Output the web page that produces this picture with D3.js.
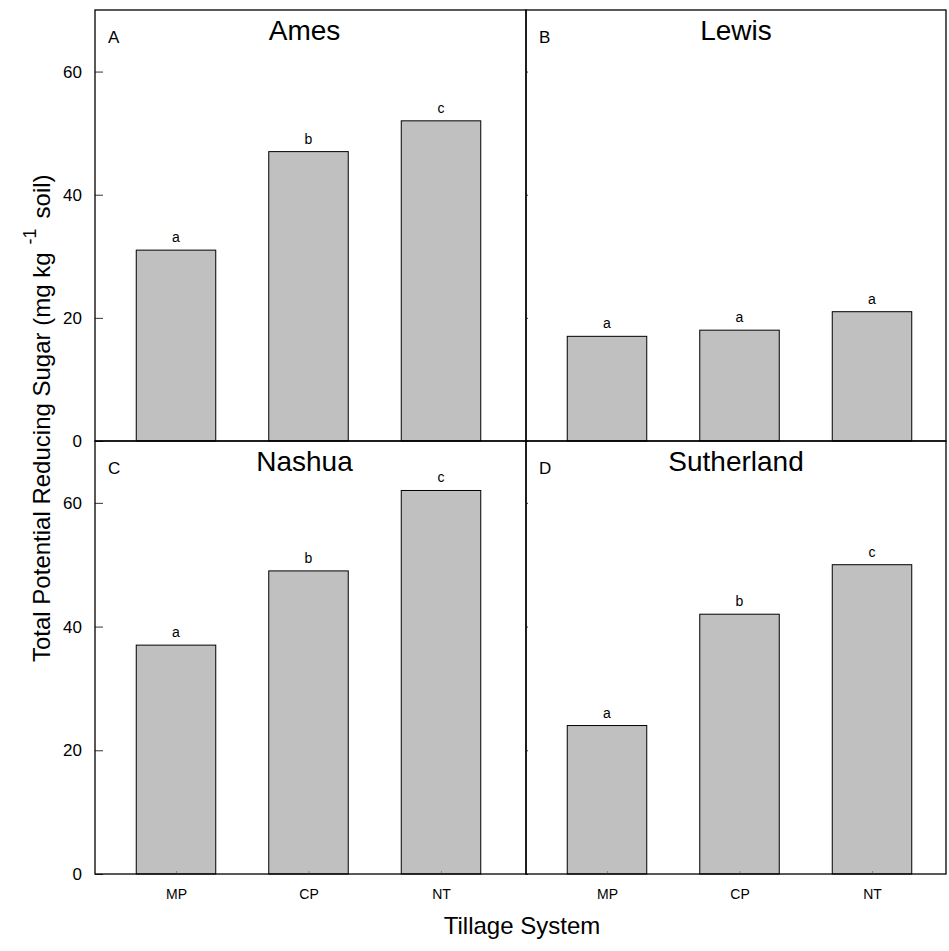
<!DOCTYPE html>
<html>
<head>
<meta charset="utf-8">
<script src="https://cdn.jsdelivr.net/npm/d3@7"></script>
<style>
  body { margin: 0; background: #fff; }
  text { font-family: "Liberation Sans", Arial, sans-serif; fill: #000; }
</style>
</head>
<body>
<div id="chart"></div>
<script>
// data
const categories = ['MP', 'CP', 'NT'];
const sites = ['Ames', 'Lewis', 'Nashua', 'Sutherland'];
const panelLetters = ['A', 'B', 'C', 'D'];
const amesValues = [31, 47, 52];
const lewisValues = [17, 18, 21];
const nashuaValues = [37, 49, 62];
const sutherlandValues = [24, 42, 50];
const amesGroups = ['a', 'b', 'c'];
const lewisGroups = ['a', 'a', 'a'];
const nashuaGroups = ['a', 'b', 'c'];
const sutherlandGroups = ['a', 'b', 'c'];
const yTicks = [0, 20, 40, 60];

const seriesValues = [amesValues, lewisValues, nashuaValues, sutherlandValues];
const seriesGroups = [amesGroups, lewisGroups, nashuaGroups, sutherlandGroups];

const W = 949, H = 951;
const plotLeft = 95, plotRight = 946, plotTop = 10, plotBottom = 874;
const midX = 526, midY = 441;

const svg = d3.select('#chart').append('svg')
  .attr('width', W)
  .attr('height', H);

const panels = [
  { x0: plotLeft, x1: midX, y0: plotTop, y1: midY },
  { x0: midX, x1: plotRight, y0: plotTop, y1: midY },
  { x0: plotLeft, x1: midX, y0: midY, y1: plotBottom },
  { x0: midX, x1: plotRight, y0: midY, y1: plotBottom }
];

panels.forEach((p, i) => {
  const g = svg.append('g');
  const isLeft = (i % 2 === 0);
  const x = d3.scalePoint()
    .domain(categories)
    .range([p.x0 + 81, p.x0 + 346]);
  const barW = x.step() * 0.6;
  const y = d3.scaleLinear()
    .domain([0, 70])
    .range([p.y1, p.y0]);

  const vals = seriesValues[i];
  const groups = seriesGroups[i];

  g.selectAll('rect.bar')
    .data(vals)
    .enter().append('rect')
    .attr('class', 'bar')
    .attr('x', (d, j) => x(categories[j]) - barW / 2)
    .attr('y', d => y(d))
    .attr('width', barW)
    .attr('height', d => y(0) - y(d))
    .attr('fill', '#c0c0c0')
    .attr('stroke', '#000')
    .attr('stroke-width', 1);

  g.selectAll('text.grp')
    .data(vals)
    .enter().append('text')
    .attr('class', 'grp')
    .attr('x', (d, j) => x(categories[j]))
    .attr('y', d => y(d) - 8)
    .attr('text-anchor', 'middle')
    .style('font-size', '14px')
    .text((d, j) => groups[j]);

  // inward y ticks
  const yAxis = d3.axisRight(y)
    .tickValues(yTicks)
    .tickSize(isLeft ? 8 : 2)
    .tickFormat('');
  const ya = g.append('g')
    .attr('transform', 'translate(' + p.x0 + ',0)')
    .call(yAxis);
  ya.select('.domain').remove();
  ya.selectAll('line').attr('stroke', '#333');

  if (isLeft) {
    const yl = d3.axisLeft(y).tickValues(yTicks).tickSize(0).tickPadding(13);
    const ylab = g.append('g')
      .attr('transform', 'translate(' + p.x0 + ',0)')
      .call(yl);
    ylab.select('.domain').remove();
    ylab.selectAll('text').style('font-size', '17px');
  }

  if (i >= 2) {
    const xa = d3.axisBottom(x).tickSize(-3).tickPadding(15);
    const xg = g.append('g')
      .attr('transform', 'translate(0,' + p.y1 + ')')
      .call(xa);
    xg.select('.domain').remove();
    xg.selectAll('line').attr('stroke', '#888');
    xg.selectAll('text').style('font-size', '14px');
  }

  // panel frame
  g.append('rect')
    .attr('x', p.x0)
    .attr('y', p.y0)
    .attr('width', p.x1 - p.x0)
    .attr('height', p.y1 - p.y0)
    .attr('fill', 'none')
    .attr('stroke', '#000')
    .attr('stroke-width', 1.3);

  g.append('text')
    .attr('x', (p.x0 + p.x1) / 2 - (isLeft ? 6 : 0))
    .attr('y', p.y0 + 30)
    .attr('text-anchor', 'middle')
    .style('font-size', '28px')
    .text(sites[i]);

  g.append('text')
    .attr('x', p.x0 + 13)
    .attr('y', p.y0 + 33)
    .style('font-size', '17px')
    .text(panelLetters[i]);
});

// axis titles
svg.append('text')
  .attr('x', 522)
  .attr('y', 934)
  .attr('text-anchor', 'middle')
  .style('font-size', '24px')
  .text('Tillage System');

const yt = svg.append('text')
  .attr('transform', 'translate(50,662) rotate(-90)')
  .attr('text-anchor', 'start')
  .style('font-size', '24px');
yt.append('tspan').text('Total Potential Reducing Sugar (mg kg');
yt.append('tspan').attr('dx', 8).attr('dy', -14).style('font-size', '18px').text('-1');
yt.append('tspan').attr('dx', 10).attr('dy', 14).text('soil)');
</script>
</body>
</html>
